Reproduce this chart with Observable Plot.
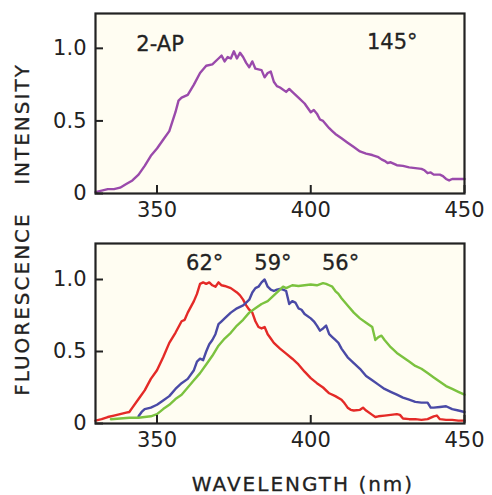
<!DOCTYPE html>
<html>
<head>
<meta charset="utf-8">
<script src="https://cdn.jsdelivr.net/npm/d3@7"></script>
<script src="https://cdn.jsdelivr.net/npm/@observablehq/plot@0.6"></script>
<style>
  html, body { margin: 0; padding: 0; background: #ffffff; }
  #wrap { position: relative; width: 492px; height: 495px; overflow: hidden; font-family: "DejaVu Sans", sans-serif; color: #222; }
  #topPanel, #bottomPanel { position: absolute; left: 0; }
  #topPanel { top: 0; }
  #bottomPanel { top: 233px; }
  .ylab { position: absolute; font-size: 20px; line-height: 1; letter-spacing: 2px; white-space: nowrap; transform: translate(-50%, -50%) rotate(-90deg); -webkit-text-stroke: 0.3px #222; }
  .xlab { position: absolute; font-size: 20px; line-height: 1; letter-spacing: 2px; white-space: nowrap; transform: translate(-50%, -50%); -webkit-text-stroke: 0.3px #222; }
</style>
</head>
<body>
<div id="wrap">
  <div id="topPanel"></div>
  <div id="bottomPanel"></div>
  <div class="ylab" style="left:22px; top:124px;">INTENSITY</div>
  <div class="ylab" style="left:22px; top:304px;">FLUORESCENCE</div>
  <div class="xlab" style="left:303px; top:484px;">WAVELENGTH (nm)</div>
</div>
<script>
// ---- Data ----
const xTicks = [350, 400, 450];
const yTicks = [0, 0.5, 1.0];
const yTickLabels = ["0", "0.5", "1.0"];

// Top panel: 2-AP at 145°
const wl145 = [330,332,334,336,338,340,342,344,346,348,350,352,354,356,357,358,360,362,364,366,368,370,371,372,373,374,375,376,377,378,379,380,381,382,384,385,386,387,388,389,390,392,393,394,396,398,400,401,402,403,404,406,407,408,410,412,414,416,418,420,422,423,424,425,426,428,430,432,434,436,437,438,439,440,442,443,444,445,446,448,450];
const int145 = [0.01,0.02,0.03,0.03,0.04,0.065,0.09,0.13,0.19,0.26,0.31,0.37,0.43,0.56,0.64,0.66,0.68,0.75,0.83,0.88,0.89,0.93,0.95,0.91,0.94,0.93,0.98,0.93,0.97,0.94,0.90,0.87,0.91,0.86,0.85,0.80,0.83,0.84,0.77,0.74,0.73,0.70,0.72,0.70,0.66,0.62,0.56,0.575,0.55,0.51,0.50,0.45,0.43,0.41,0.38,0.35,0.32,0.29,0.275,0.265,0.25,0.235,0.225,0.21,0.215,0.195,0.19,0.18,0.175,0.17,0.16,0.14,0.145,0.13,0.13,0.12,0.10,0.09,0.10,0.10,0.10];

// Bottom panel: 62°
const wl62 = [330,332,334,336,338,340,341,342,344,346,348,350,352,354,356,358,359,360,362,363,364,365,366,367,368,369,370,371,372,374,376,377,378,379,380,381,382,383,384,385,386,387,388,390,392,394,396,398,400,402,404,406,408,410,411,412,413,414,416,417,418,420,421,422,424,426,428,429,430,432,434,436,438,440,441,442,444,446,448,450];
const int62 = [0.02,0.03,0.045,0.055,0.065,0.075,0.08,0.11,0.17,0.23,0.31,0.37,0.46,0.56,0.63,0.71,0.72,0.77,0.85,0.90,0.97,0.98,0.97,0.98,0.96,0.95,0.98,0.96,0.955,0.94,0.91,0.89,0.86,0.82,0.79,0.77,0.71,0.67,0.66,0.67,0.62,0.59,0.56,0.52,0.485,0.45,0.41,0.36,0.315,0.28,0.25,0.21,0.19,0.165,0.14,0.11,0.095,0.09,0.095,0.11,0.09,0.06,0.045,0.05,0.055,0.06,0.065,0.06,0.035,0.03,0.03,0.025,0.03,0.05,0.055,0.03,0.025,0.025,0.02,0.02];

// Bottom panel: 59°
const wl59 = [344,345,346,348,350,352,354,356,358,360,362,363,364,365,366,367,368,369,370,371,372,374,376,378,379,380,381,382,383,384,385,386,387,388,389,390,391,392,393,394,395,396,397,398,400,401,402,403,404,405,406,407,408,409,410,412,414,416,418,420,422,424,426,428,430,432,434,436,438,439,440,442,444,446,448,450];
const int59 = [0.05,0.08,0.10,0.11,0.13,0.16,0.19,0.24,0.28,0.31,0.37,0.43,0.45,0.44,0.50,0.55,0.58,0.62,0.69,0.71,0.73,0.77,0.80,0.82,0.84,0.86,0.91,0.94,0.95,0.98,1.0,0.95,0.93,0.92,0.93,0.935,0.93,0.92,0.83,0.85,0.84,0.80,0.79,0.76,0.73,0.71,0.68,0.645,0.66,0.68,0.62,0.60,0.58,0.56,0.52,0.46,0.42,0.38,0.33,0.30,0.27,0.24,0.22,0.20,0.18,0.165,0.15,0.145,0.145,0.11,0.11,0.115,0.12,0.10,0.09,0.08];

// Bottom panel: 56°
const wl56 = [335,338,341,344,346,348,350,352,354,356,358,360,362,364,366,368,370,372,374,376,378,380,382,384,386,388,390,391,392,394,396,398,400,402,404,405,406,407,408,409,410,412,414,416,418,420,421,422,423,424,426,428,430,432,434,436,438,440,442,444,446,448,450];
const int56 = [0.03,0.035,0.04,0.04,0.045,0.05,0.065,0.10,0.13,0.17,0.20,0.25,0.30,0.35,0.41,0.47,0.54,0.59,0.63,0.68,0.72,0.77,0.80,0.83,0.85,0.89,0.93,0.95,0.94,0.96,0.955,0.96,0.965,0.96,0.975,0.97,0.96,0.95,0.92,0.90,0.87,0.82,0.77,0.73,0.70,0.67,0.58,0.60,0.61,0.58,0.53,0.49,0.46,0.43,0.40,0.38,0.35,0.32,0.29,0.26,0.24,0.22,0.20];

// Annotations
const topLabels = ["2-AP", "145°"];
const topLabelX = [351, 426.5];
const topLabelY = [1.03, 1.04];
const botLabels = ["62°", "59°", "56°"];
const botLabelX = [365.5, 387.7, 409.7];
const botLabelY = [1.11, 1.11, 1.11];

const colors = {p145: "#9a4aab", p62: "#e42a27", p59: "#4a4aa6", p56: "#7bc23f"};

// ---- Build tables ----
const toRows = (xs, ys, s) => xs.map((x, i) => ({wl: x, v: ys[i], s}));
const topRows = toRows(wl145, int145, "145");
const bottomRows = [...toRows(wl62, int62, "62"), ...toRows(wl59, int59, "59"), ...toRows(wl56, int56, "56")];
const topText = topLabels.map((t, i) => ({t, x: topLabelX[i], y: topLabelY[i]}));
const botText = botLabels.map((t, i) => ({t, x: botLabelX[i], y: botLabelY[i]}));

const fontFamily = "DejaVu Sans, sans-serif";

function panel({data, texts, height, marginTop, marginBottom, yMax, colorMap}) {
  return Plot.plot({
    width: 492,
    height,
    marginLeft: 95,
    marginRight: 28,
    marginTop,
    marginBottom,
    style: {fontFamily, fontSize: "21px", color: "#222", background: "transparent", overflow: "visible"},
    x: {domain: [330, 450]},
    y: {domain: [0, yMax]},
    marks: [
      Plot.frame({fill: "#fffdf2", stroke: null}),
      Plot.line(data, {x: "wl", y: "v", z: "s", stroke: d => colorMap[d.s], strokeWidth: 2.4, strokeLinejoin: "round"}),
      Plot.text(texts, {x: "x", y: "y", text: "t", fontSize: 21, fill: "#222", stroke: "#222", strokeWidth: 0.3}),
      Plot.axisX({ticks: xTicks, tickSize: -8, tickPadding: 17, strokeWidth: 2, stroke: "#222", fontSize: 21, label: null}),
      Plot.axisY({ticks: yTicks, tickFormat: (d) => yTickLabels[yTicks.indexOf(d)], tickSize: -8, tickPadding: 17, strokeWidth: 2, stroke: "#222", fontSize: 21, label: null}),
      Plot.frame({stroke: "#222", strokeWidth: 2.2})
    ]
  });
}

document.getElementById("topPanel").appendChild(panel({
  data: topRows, texts: topText, height: 233, marginTop: 13, marginBottom: 40, yMax: 1.24,
  colorMap: {"145": colors.p145}
}));
document.getElementById("bottomPanel").appendChild(panel({
  data: bottomRows, texts: botText, height: 262, marginTop: 10, marginBottom: 72, yMax: 1.25,
  colorMap: {"62": colors.p62, "59": colors.p59, "56": colors.p56}
}));
</script>
</body>
</html>
